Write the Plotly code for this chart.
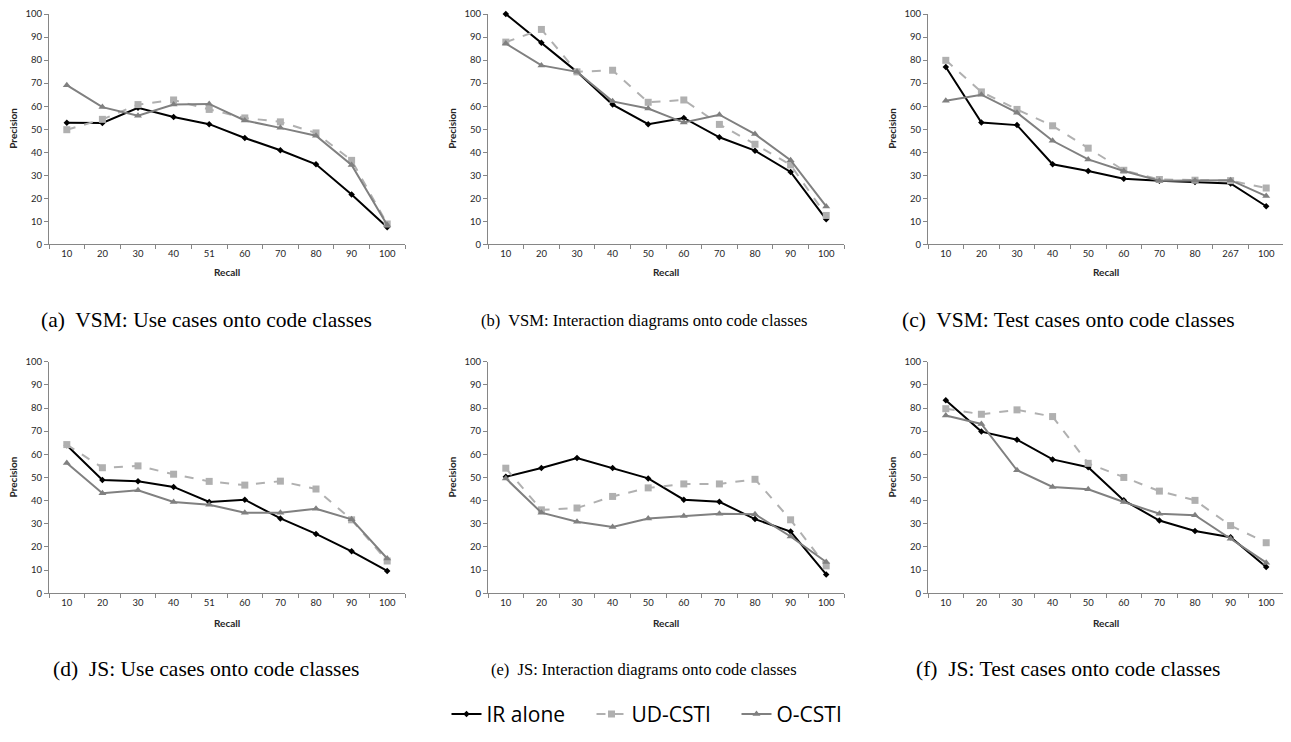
import plotly.graph_objects as go

# ---------------- data ----------------
cats_std = ["10", "20", "30", "40", "50", "60", "70", "80", "90", "100"]
cats_51 = ["10", "20", "30", "40", "51", "60", "70", "80", "90", "100"]
cats_267 = ["10", "20", "30", "40", "50", "60", "70", "80", "267", "100"]

series_names = ["IR alone", "UD-CSTI", "O-CSTI"]

# (a) VSM: Use cases onto code classes
a_ir = [52.8, 52.7, 59.3, 55.3, 52.2, 46.2, 40.9, 34.8, 21.7, 7.5]
a_ud = [49.8, 54.3, 60.7, 62.7, 58.6, 54.9, 53.2, 48.4, 36.5, 8.9]
a_o = [69.1, 59.6, 55.9, 60.7, 61.0, 53.8, 50.6, 47.2, 34.5, 8.5]

# (b) VSM: Interaction diagrams onto code classes
b_ir = [100.0, 87.5, 74.9, 60.7, 52.2, 54.9, 46.5, 40.7, 31.5, 10.9]
b_ud = [87.8, 93.3, 74.9, 75.6, 61.7, 62.7, 52.1, 43.5, 34.5, 12.6]
b_o = [87.2, 77.7, 74.9, 62.1, 59.0, 52.9, 56.3, 47.9, 36.6, 16.5]

# (c) VSM: Test cases onto code classes
c_ir = [77.0, 52.9, 51.8, 34.8, 31.9, 28.5, 27.7, 27.1, 26.5, 16.6]
c_ud = [79.9, 66.2, 58.6, 51.5, 41.8, 32.2, 28.2, 27.9, 27.7, 24.5]
c_o = [62.4, 65.0, 57.2, 45.0, 36.9, 31.9, 27.7, 27.7, 27.9, 21.0]

# (d) JS: Use cases onto code classes
d_ir = [63.9, 48.9, 48.4, 45.9, 39.4, 40.4, 32.3, 25.6, 18.1, 9.6]
d_ud = [64.2, 54.2, 55.0, 51.4, 48.3, 46.7, 48.4, 45.0, 31.7, 13.9]
d_o = [56.2, 43.2, 44.5, 39.4, 38.2, 34.8, 34.8, 36.5, 31.9, 15.0]

# (e) JS: Interaction diagrams onto code classes
e_ir = [50.3, 54.1, 58.4, 54.1, 49.6, 40.4, 39.5, 32.0, 26.6, 8.1]
e_ud = [54.0, 36.0, 36.8, 41.8, 45.5, 47.2, 47.2, 49.2, 31.7, 11.8]
e_o = [49.6, 34.8, 30.9, 28.6, 32.3, 33.3, 34.3, 34.1, 24.5, 13.5]

# (f) JS: Test cases onto code classes
f_ir = [83.3, 69.8, 66.3, 57.8, 54.4, 40.1, 31.4, 26.9, 24.2, 11.3]
f_ud = [79.7, 77.3, 79.2, 76.3, 56.1, 50.0, 44.1, 40.1, 29.2, 21.8]
f_o = [76.8, 73.1, 53.1, 45.9, 44.9, 39.4, 34.3, 33.7, 23.5, 13.2]

captions = [
    "(a)  VSM: Use cases onto code classes",
    "(b)  VSM: Interaction diagrams onto code classes",
    "(c)  VSM: Test cases onto code classes",
    "(d)  JS: Use cases onto code classes",
    "(e)  JS: Interaction diagrams onto code classes",
    "(f)  JS: Test cases onto code classes",
]
y_ticks = [0, 10, 20, 30, 40, 50, 60, 70, 80, 90, 100]

panels = [
    (cats_51, a_ir, a_ud, a_o),
    (cats_std, b_ir, b_ud, b_o),
    (cats_267, c_ir, c_ud, c_o),
    (cats_51, d_ir, d_ud, d_o),
    (cats_std, e_ir, e_ud, e_o),
    (cats_std, f_ir, f_ud, f_o),
]

# ---------------- layout geometry (pixels in the 1291x742 window) ----------------
OFF = 8  # default body margin of the html page
W, H = 1291 - OFF, 742 - OFF
col_px = [(49, 405), (488, 844), (928, 1284)]
row_px = [(7, 242), (361, 596)]
caption_y = [319, 673]
caption_cx = [[206, 644, 1068], [206, 644, 1068]]
caption_size = [21.5, 16.5, 21.5, 21.5, 16.5, 21.5]
recall_y = [270, 626]


def px(v):
    return min(1.0, max(0.0, (v - OFF) / W))


def py(v):
    return min(1.0, max(0.0, 1 - (v - OFF) / H))


styles = [
    dict(color="#000000", width=2, dash="solid", symbol="diamond", size=5),
    dict(color="#B0B0B0", width=2, dash="dash", symbol="square", size=7),
    dict(color="#808080", width=2, dash="solid", symbol="triangle-up", size=7),
]

fig = go.Figure()
annotations = []
axis_color = "#868686"
text_color = "#262626"
tick_font = dict(family="Lato, 'Open Sans', sans-serif", size=9.5, color=text_color)

for i, (cats, ir, ud, o) in enumerate(panels):
    r, c = divmod(i, 3)
    x0, x1 = col_px[c]
    ytop, ybot = row_px[r]
    xa = "x" if i == 0 else f"x{i+1}"
    ya = "y" if i == 0 else f"y{i+1}"
    xkey = "xaxis" if i == 0 else f"xaxis{i+1}"
    ykey = "yaxis" if i == 0 else f"yaxis{i+1}"
    for s, (name, vals) in enumerate(zip(series_names, [ir, ud, o])):
        st = styles[s]
        fig.add_trace(go.Scatter(
            x=cats, y=vals, name=name, mode="lines+markers",
            xaxis=xa, yaxis=ya, showlegend=(i == 0), cliponaxis=False,
            line=dict(color=st["color"], width=st["width"], dash=st["dash"]),
            marker=dict(symbol=st["symbol"], size=st["size"], color=st["color"]),
        ))
    fig.layout[xkey] = dict(
        domain=[px(x0), px(x1)], anchor=ya, type="category",
        categoryorder="array", categoryarray=cats,
        range=[-0.5, 9.5], showgrid=False, zeroline=False,
        showline=True, linecolor=axis_color, linewidth=1,
        ticks="outside", tickson="boundaries", ticklen=4, tickcolor=axis_color,
        tickfont=tick_font, fixedrange=True,
    )
    fig.layout[ykey] = dict(
        domain=[py(ybot), py(ytop)], anchor=xa,
        range=[0, 100], tickvals=y_ticks, showgrid=False, zeroline=False,
        showline=True, linecolor=axis_color, linewidth=1,
        ticks="outside", ticklen=4, tickcolor=axis_color,
        tickfont=tick_font, fixedrange=True,
    )
    annotations.append(dict(
        text="<b>Precision</b>", xref="paper", yref="paper",
        x=px(x0 - 36), y=py((ytop + ybot) / 2), textangle=-90,
        showarrow=False, font=dict(family="Lato, sans-serif", size=10, color=text_color),
        xanchor="center", yanchor="middle",
    ))
    annotations.append(dict(
        text="<b>Recall</b>", xref="paper", yref="paper",
        x=px((x0 + x1) / 2), y=py(recall_y[r]),
        showarrow=False, font=dict(family="Lato, sans-serif", size=10, color=text_color),
        xanchor="center", yanchor="middle",
    ))
    cap = captions[i].replace("  ", "\u00a0 ")
    annotations.append(dict(
        text=cap, xref="paper", yref="paper",
        x=px(caption_cx[r][c]), y=py(caption_y[r]),
        showarrow=False,
        font=dict(family="Liberation Serif, serif", size=caption_size[i], color="#000000"),
        xanchor="center", yanchor="middle",
    ))

fig.update_layout(
    width=W, height=H, autosize=False,
    margin=dict(l=0, r=0, t=0, b=0),
    paper_bgcolor="white", plot_bgcolor="white",
    annotations=annotations,
    legend=dict(
        orientation="h", x=px(664), xanchor="center", y=py(719), yanchor="middle",
        font=dict(family="'Open Sans', sans-serif", size=21, color="#000000"),
        itemwidth=30, entrywidth=100, bgcolor="rgba(0,0,0,0)",
    ),
)

fig.write_html("out.html")
